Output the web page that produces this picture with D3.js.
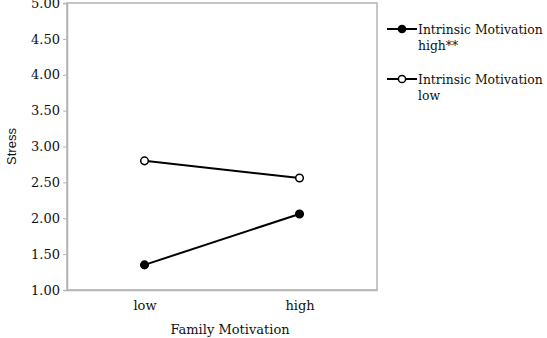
<!DOCTYPE html>
<html>
<head>
<meta charset="utf-8">
<script src="https://cdn.jsdelivr.net/npm/d3@7/dist/d3.min.js"></script>
<style>
  html, body { margin: 0; padding: 0; background: #fff; }
  svg { display: block; }
  .serif { font-family: "DejaVu Serif", "Liberation Serif", serif; }
</style>
</head>
<body>
<svg id="chart" width="547" height="338"></svg>
<script>
// Family motivation levels on the x axis
const categories = ["low", "high"];
// Mean stress for each intrinsic-motivation group
const seriesNames = ["Intrinsic Motivation high**", "Intrinsic Motivation low"];
const highIntrinsic = [1.35, 2.06];
const lowIntrinsic = [2.80, 2.56];
const yTicks = [1.00, 1.50, 2.00, 2.50, 3.00, 3.50, 4.00, 4.50, 5.00];

const svg = d3.select("#chart");
const plot = { left: 67, right: 377, top: 3, bottom: 290 };

const x = d3.scalePoint().domain(categories).range([plot.left, plot.right]).padding(0.5);
const y = d3.scaleLinear().domain([1, 5]).range([plot.bottom, plot.top]);

const grey = "#b3b3b3";
const ink = "#111";
const fontSize = 13;

// Plot frame
svg.append("rect")
  .attr("x", plot.left).attr("y", plot.top)
  .attr("width", plot.right - plot.left).attr("height", plot.bottom - plot.top)
  .attr("fill", "none").attr("stroke", grey).attr("stroke-width", 1.5);

// Y axis
const yAxis = svg.append("g")
  .attr("transform", `translate(${plot.left},0)`)
  .call(d3.axisLeft(y).tickValues(yTicks).tickFormat(d3.format(".2f")).tickSize(4).tickPadding(3));
yAxis.select(".domain").attr("stroke", grey).attr("stroke-width", 1.5);
yAxis.selectAll(".tick line").attr("stroke", grey);
yAxis.selectAll("text").attr("class", "serif").attr("font-size", fontSize).attr("fill", ink);

// X axis labels
const xAxis = svg.append("g")
  .attr("transform", `translate(0,${plot.bottom})`)
  .call(d3.axisBottom(x).tickSize(0).tickPadding(11));
xAxis.select(".domain").attr("stroke", grey).attr("stroke-width", 1.5);
xAxis.selectAll("text").attr("class", "serif").attr("font-size", fontSize).attr("fill", ink);

// Axis titles
svg.append("text")
  .attr("class", "serif")
  .attr("x", 230).attr("y", 334)
  .attr("text-anchor", "middle").attr("font-size", fontSize).attr("fill", ink)
  .text("Family Motivation");

svg.append("text")
  .attr("transform", `translate(16,${(plot.top + plot.bottom) / 2}) rotate(-90)`)
  .attr("text-anchor", "middle")
  .attr("font-family", "Liberation Sans, Arial, sans-serif")
  .attr("font-size", 13).attr("fill", ink)
  .text("Stress");

// Series lines and markers
const series = [
  { name: seriesNames[0], values: highIntrinsic, fill: "#000" },
  { name: seriesNames[1], values: lowIntrinsic, fill: "#fff" }
];
const line = d3.line().x((d, i) => x(categories[i])).y(d => y(d));

series.forEach(s => {
  svg.append("path")
    .datum(s.values)
    .attr("d", line)
    .attr("fill", "none").attr("stroke", "#000").attr("stroke-width", 2);
  svg.selectAll(null)
    .data(s.values)
    .enter().append("circle")
    .attr("cx", (d, i) => x(categories[i]))
    .attr("cy", d => y(d))
    .attr("r", 3.8)
    .attr("fill", s.fill).attr("stroke", "#000").attr("stroke-width", 1.5);
});

// Legend
const legend = svg.append("g").attr("transform", "translate(387,29)");
series.forEach((s, i) => {
  const g = legend.append("g").attr("transform", `translate(0,${i * 50})`);
  g.append("line").attr("x1", 0).attr("x2", 30).attr("y1", 0).attr("y2", 0)
    .attr("stroke", "#000").attr("stroke-width", 2);
  g.append("circle").attr("cx", 15).attr("cy", 0).attr("r", 3.6)
    .attr("fill", s.fill).attr("stroke", "#000").attr("stroke-width", 1.5);
  const parts = s.name.split(" ");
  const firstLine = parts.slice(0, 2).join(" ");
  const secondLine = parts.slice(2).join(" ");
  const t = g.append("text").attr("class", "serif")
    .attr("font-size", 12.4).attr("fill", ink);
  t.append("tspan").attr("x", 31).attr("y", 4.5).text(firstLine);
  t.append("tspan").attr("x", 31).attr("y", 21).text(secondLine);
});
</script>
</body>
</html>
